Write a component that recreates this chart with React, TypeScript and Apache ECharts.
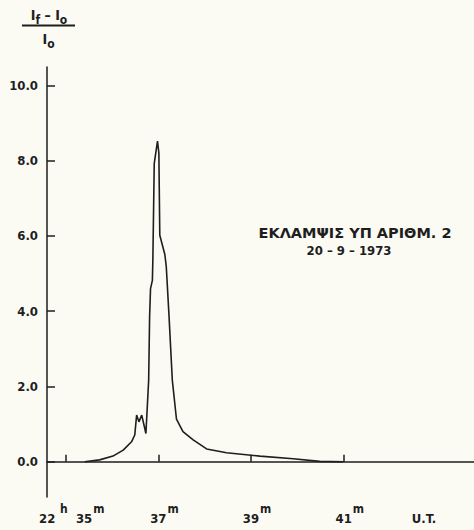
import React, { useEffect, useRef } from 'react';
import * as echarts from 'echarts';

// time in minutes after 22h (U.T.)
const minutes = [35.41, 35.73, 36.02, 36.24, 36.42, 36.49, 36.53, 36.58, 36.64, 36.69, 36.73, 36.79, 36.81, 36.83, 36.87, 36.88, 36.91, 36.98, 37.01, 37.03, 37.14, 37.17, 37.23, 37.30, 37.39, 37.53, 37.75, 38.04, 38.47, 39.19, 39.91, 40.48, 40.99];
// (If - Io) / Io
const ratio = [0, 0.05, 0.15, 0.31, 0.53, 0.71, 1.24, 1.06, 1.24, 0.97, 0.75, 2.17, 3.85, 4.6, 4.82, 5.35, 7.92, 8.52, 8.2, 6.02, 5.5, 5.18, 3.85, 2.17, 1.13, 0.8, 0.58, 0.34, 0.24, 0.15, 0.08, 0.01, 0];

const yTicks = [0, 2, 4, 6, 8, 10];
const xTicks = [35, 37, 39, 41];
const startHour = '22';
const titleLine1 = 'ΕΚΛΑΜΨΙΣ ΥΠ ΑΡΙΘΜ. 2';
const titleLine2 = '20 – 9 – 1973';
const xUnit = 'U.T.';

const FONT = "'DejaVu Sans Condensed', 'Liberation Sans Narrow', 'DejaVu Sans', sans-serif";
const INK = '#1e1e1e';

export default function App() {
  const ref = useRef<HTMLDivElement>(null);
  useEffect(() => {
    const chart = echarts.init(ref.current!, null, { renderer: 'svg' });
    const data = minutes.map((m, i) => [m, ratio[i]]);
    chart.setOption({
      animation: false,
      backgroundColor: '#fbfbf4',
      grid: { left: 47, right: 0, top: 67, bottom: 33, containLabel: false, outerBoundsMode: 'none' },
      xAxis: {
        type: 'value',
        min: 34.596,
        max: 43.81,
        axisLine: { show: true, lineStyle: { color: INK, width: 1.5 } },
        splitLine: { show: false },
        axisTick: { show: true, inside: true, length: 7, customValues: xTicks, lineStyle: { color: INK, width: 1.5 } },
        axisLabel: {
          customValues: xTicks,
          margin: 5,
          padding: [0, 0, 0, 12],
          formatter: (v: number) => {
            const m = Math.round(v);
            return m === xTicks[0]
              ? `{n|${startHour}}{s| h}{n|  ${m}}{s|m}`
              : `{n|${m}}{s|m}`;
          },
          rich: {
            n: { fontFamily: FONT, fontSize: 13, fontWeight: 'bold', color: INK, padding: [10, 0, 0, 0] },
            s: { fontFamily: FONT, fontSize: 12, fontWeight: 'bold', color: INK, padding: [0, 0, 10, 1] },
          },
        },
      },
      yAxis: {
        type: 'value',
        min: -0.937,
        max: 10.49,
        axisLine: { show: true, lineStyle: { color: INK, width: 1.5 } },
        splitLine: { show: false },
        axisTick: { show: true, inside: true, length: 8, customValues: yTicks, lineStyle: { color: INK, width: 1.5 } },
        axisLabel: {
          customValues: yTicks,
          margin: 9,
          formatter: (v: number) => v.toFixed(1),
          fontFamily: FONT,
          fontSize: 13,
          fontWeight: 'bold',
          color: INK,
        },
      },
      series: [
        {
          type: 'line',
          data,
          showSymbol: false,
          lineStyle: { color: INK, width: 1.6 },
        },
      ],
      graphic: [
        {
          type: 'text', x: 49, y: 17,
          style: {
            text: '{b|I}{sub|f}{b| – I}{sub|o}',
            align: 'center', verticalAlign: 'middle',
            rich: {
              b: { fontFamily: FONT, fontSize: 14, fontWeight: 'bold', fill: INK, padding: [0, 0, 4, 0] },
              sub: { fontFamily: FONT, fontSize: 12, fontWeight: 'bold', fill: INK, padding: [6, 0, 0, 0] },
            },
          },
        },
        { type: 'line', shape: { x1: 22, y1: 25.5, x2: 75, y2: 25.5 }, style: { stroke: INK, lineWidth: 1.8 } },
        {
          type: 'text', x: 48.5, y: 41,
          style: {
            text: '{b|I}{sub|o}',
            align: 'center', verticalAlign: 'middle',
            rich: {
              b: { fontFamily: FONT, fontSize: 14, fontWeight: 'bold', fill: INK, padding: [0, 0, 4, 0] },
              sub: { fontFamily: FONT, fontSize: 12, fontWeight: 'bold', fill: INK, padding: [6, 0, 0, 0] },
            },
          },
        },
        {
          type: 'text', x: 355, y: 233,
          style: { text: titleLine1, align: 'center', verticalAlign: 'middle', fontFamily: "'DejaVu Sans', sans-serif", fontSize: 14.5, fontWeight: 'bold', fill: INK },
        },
        {
          type: 'text', x: 349, y: 250,
          style: { text: titleLine2, align: 'center', verticalAlign: 'middle', fontFamily: FONT, fontSize: 13, fontWeight: 'bold', fill: INK },
        },
        {
          type: 'text', x: 424, y: 518,
          style: { text: xUnit, align: 'center', verticalAlign: 'middle', fontFamily: FONT, fontSize: 13, fontWeight: 'bold', fill: INK },
        },
      ],
    });
    return () => chart.dispose();
  }, []);
  return <div ref={ref} style={{ position: 'absolute', left: 0, top: 0, width: 474, height: 530 }} />;
}
